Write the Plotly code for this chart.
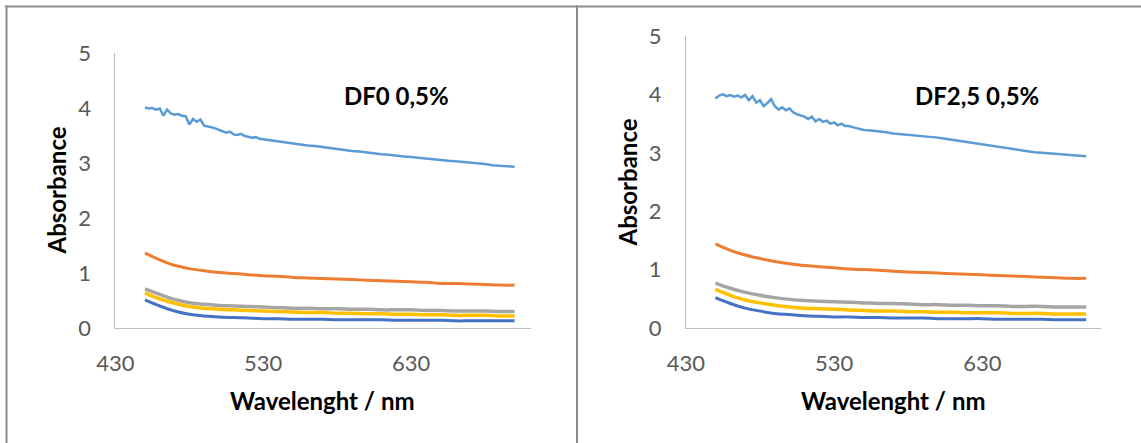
import plotly.graph_objects as go

# ---------------- data ----------------
# fine grid for the noisy high-absorbance series
wl_fine = [450, 452.5, 455, 457.5, 460, 462.5, 465, 467.5, 470, 472.5,
           475, 477.5, 480, 482.5, 485, 487.5, 490, 492.5, 495, 497.5,
           500, 502.5, 505, 507.5, 510, 512.5, 515, 517.5, 520, 522.5,
           525, 527.5, 530, 532.5, 535, 537.5, 540, 542.5, 545, 547.5,
           550, 555, 560, 565, 570, 575, 580, 585, 590, 595,
           600, 605, 610, 615, 620, 625, 630, 635, 640, 645,
           650, 655, 660, 665, 670, 675, 680, 685, 690, 695, 700]
# coarse grid for the smooth series
wl = [450, 460, 470, 480, 490, 500, 510, 520, 530, 540, 550, 560, 570,
      580, 590, 600, 610, 620, 630, 640, 650, 660, 670, 680, 690, 700]

# Panel 1: DF0 0,5%
p1_lightblue = [4.01, 3.99, 4.00, 3.97, 3.99, 3.86, 3.97, 3.90, 3.88, 3.89,
                3.86, 3.85, 3.70, 3.80, 3.75, 3.79, 3.68, 3.67, 3.65, 3.63,
                3.60, 3.57, 3.55, 3.57, 3.52, 3.51, 3.53, 3.49, 3.48, 3.46,
                3.47, 3.44, 3.43, 3.42, 3.41, 3.40, 3.39, 3.38, 3.37, 3.36,
                3.35, 3.34, 3.32, 3.31, 3.29, 3.27, 3.25, 3.24, 3.22, 3.21,
                3.19, 3.18, 3.16, 3.15, 3.13, 3.12, 3.11, 3.09, 3.08, 3.07,
                3.05, 3.04, 3.03, 3.02, 3.00, 2.99, 2.98, 2.96, 2.95, 2.94, 2.93]
p1_orange = [1.36, 1.24, 1.14, 1.08, 1.04, 1.01, 0.99, 0.97, 0.95, 0.94, 0.92, 0.91, 0.90,
             0.89, 0.88, 0.87, 0.86, 0.85, 0.84, 0.83, 0.81, 0.81, 0.80, 0.79, 0.78, 0.78]
p1_gray = [0.71, 0.61, 0.52, 0.46, 0.43, 0.41, 0.40, 0.39, 0.38, 0.37, 0.36, 0.36, 0.35,
           0.35, 0.34, 0.34, 0.33, 0.33, 0.33, 0.32, 0.32, 0.31, 0.31, 0.31, 0.30, 0.30]
p1_yellow = [0.64, 0.53, 0.45, 0.39, 0.36, 0.34, 0.33, 0.32, 0.31, 0.30, 0.29, 0.28, 0.28,
             0.27, 0.27, 0.26, 0.26, 0.25, 0.25, 0.24, 0.24, 0.23, 0.23, 0.23, 0.22, 0.22]
p1_darkblue = [0.51, 0.40, 0.31, 0.25, 0.22, 0.20, 0.19, 0.18, 0.17, 0.17, 0.16, 0.16, 0.16,
               0.15, 0.15, 0.15, 0.15, 0.14, 0.14, 0.14, 0.14, 0.13, 0.13, 0.13, 0.13, 0.13]

# Panel 2: DF2,5 0,5%
p2_lightblue = [3.93, 3.98, 4.00, 3.97, 3.99, 3.96, 3.98, 3.95, 3.99, 3.90,
                3.97, 3.86, 3.90, 3.80, 3.85, 3.92, 3.80, 3.74, 3.78, 3.73,
                3.76, 3.69, 3.66, 3.64, 3.62, 3.58, 3.62, 3.54, 3.58, 3.53,
                3.55, 3.50, 3.52, 3.47, 3.50, 3.46, 3.46, 3.44, 3.42, 3.40,
                3.39, 3.38, 3.37, 3.35, 3.33, 3.32, 3.30, 3.29, 3.28, 3.27,
                3.26, 3.24, 3.22, 3.20, 3.18, 3.16, 3.14, 3.12, 3.10, 3.08,
                3.06, 3.05, 3.03, 3.01, 3.00, 2.99, 2.98, 2.97, 2.96, 2.95, 2.94]
p2_orange = [1.44, 1.33, 1.25, 1.19, 1.14, 1.10, 1.07, 1.05, 1.03, 1.01, 1.00, 0.99, 0.97,
             0.96, 0.95, 0.94, 0.93, 0.92, 0.91, 0.90, 0.89, 0.88, 0.87, 0.86, 0.85, 0.85]
p2_gray = [0.77, 0.68, 0.61, 0.56, 0.52, 0.49, 0.47, 0.46, 0.45, 0.44, 0.43, 0.42, 0.42,
           0.41, 0.40, 0.40, 0.39, 0.39, 0.38, 0.38, 0.37, 0.37, 0.37, 0.36, 0.36, 0.36]
p2_yellow = [0.66, 0.56, 0.48, 0.43, 0.39, 0.36, 0.34, 0.33, 0.32, 0.31, 0.30, 0.29, 0.29,
             0.28, 0.28, 0.27, 0.27, 0.26, 0.26, 0.26, 0.25, 0.25, 0.25, 0.24, 0.24, 0.24]
p2_darkblue = [0.52, 0.42, 0.34, 0.29, 0.25, 0.23, 0.21, 0.20, 0.19, 0.19, 0.18, 0.18, 0.17,
               0.17, 0.17, 0.16, 0.16, 0.16, 0.16, 0.15, 0.15, 0.15, 0.15, 0.14, 0.14, 0.14]

x_tick_vals = [430, 530, 630]
y_tick_vals = [0, 1, 2, 3, 4, 5]
panel_titles = ["DF0 0,5%", "DF2,5 0,5%"]
x_title = "Wavelenght / nm"
y_title = "Absorbance"

# ---------------- figure ----------------
W, H = 1141, 443
FONT = "Lato"
C_DARKBLUE, C_ORANGE, C_GRAY, C_YELLOW, C_LIGHTBLUE = "#4472C4", "#ED7D31", "#A5A5A5", "#FFC000", "#5B9BD5"

fig = go.Figure()

def add_panel(xa, ya, darkblue, orange, gray, yellow, lightblue):
    for vals, col, w in [(darkblue, C_DARKBLUE, 3), (orange, C_ORANGE, 3),
                         (gray, C_GRAY, 3.5), (yellow, C_YELLOW, 3.5)]:
        fig.add_trace(go.Scatter(x=wl, y=vals, mode="lines", xaxis=xa, yaxis=ya,
                                 line=dict(color=col, width=w, shape="spline"),
                                 showlegend=False, hoverinfo="skip"))
    fig.add_trace(go.Scatter(x=wl_fine, y=lightblue, mode="lines", xaxis=xa, yaxis=ya,
                             line=dict(color=C_LIGHTBLUE, width=2.5),
                             showlegend=False, hoverinfo="skip"))

add_panel("x", "y", p1_darkblue, p1_orange, p1_gray, p1_yellow, p1_lightblue)
add_panel("x2", "y2", p2_darkblue, p2_orange, p2_gray, p2_yellow, p2_lightblue)

def px(x):
    return x / W

def py(y):
    return 1 - y / H

axis_common = dict(showgrid=False, zeroline=False, showline=True, linecolor="#BFBFBF",
                   linewidth=1, ticks="", automargin=False,
                   tickfont=dict(family=FONT, size=22, color="#595959"))

fig.update_layout(
    width=W, height=H, margin=dict(l=0, r=0, t=0, b=0, autoexpand=False),
    paper_bgcolor="white", plot_bgcolor="white",
    xaxis=dict(domain=[px(115.4), px(530.8)], range=[430, 711], tickvals=x_tick_vals,
               anchor="y", ticklabelstandoff=16, **axis_common),
    yaxis=dict(domain=[py(328), py(53)], range=[0, 5], tickvals=y_tick_vals,
               anchor="x", ticklabelstandoff=19, **axis_common),
    xaxis2=dict(domain=[px(685.8), px(1101)], range=[430, 710], tickvals=x_tick_vals,
                anchor="y2", ticklabelstandoff=16, **axis_common),
    yaxis2=dict(domain=[py(328), py(36)], range=[0, 5], tickvals=y_tick_vals,
                anchor="x2", ticklabelstandoff=19, **axis_common),
)

ann = []
bold = dict(family=FONT, size=24, color="#000000")
ann.append(dict(x=px(396), y=py(95), text="<b>%s</b>" % panel_titles[0], font=bold))
ann.append(dict(x=px(977), y=py(95), text="<b>%s</b>" % panel_titles[1], font=bold))
ann.append(dict(x=px(322), y=py(400), text="<b>%s</b>" % x_title, font=bold))
ann.append(dict(x=px(893), y=py(400), text="<b>%s</b>" % x_title, font=bold))
ann.append(dict(x=px(55.5), y=py(191), text="<b>%s</b>" % y_title, font=bold, textangle=-90))
ann.append(dict(x=px(626.5), y=py(183), text="<b>%s</b>" % y_title, font=bold, textangle=-90))
for a in ann:
    a.update(xref="paper", yref="paper", showarrow=False, xanchor="center", yanchor="middle")
fig.update_layout(annotations=ann)

border = dict(color="#8C8C8C", width=2)
fig.update_layout(shapes=[
    dict(type="line", xref="paper", yref="paper", x0=px(5), x1=1, y0=py(6.5), y1=py(6.5), line=border),
    dict(type="line", xref="paper", yref="paper", x0=px(6.5), x1=px(6.5), y0=py(5.5), y1=0, line=border),
    dict(type="line", xref="paper", yref="paper", x0=px(577), x1=px(577), y0=py(5.5), y1=0, line=border),
])

fig.write_html("out.html",
               post_script="document.body.style.margin='0';document.body.style.overflow='hidden';")
